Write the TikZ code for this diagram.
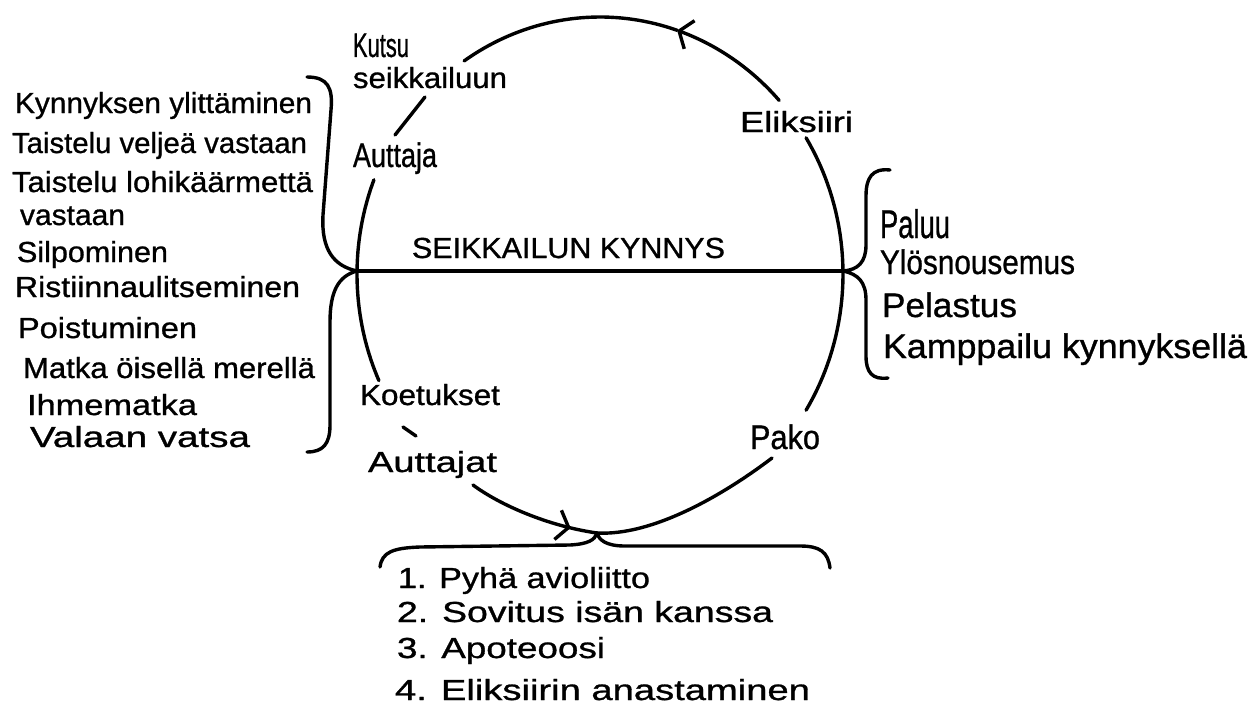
\documentclass[tikz,border=0pt]{standalone}
\usepackage{fontspec}
\setmainfont{Liberation Sans}
\newfontfamily\hand{Liberation Sans}[FakeBold=0.9]
\usepackage{graphicx}
\usetikzlibrary{arrows.meta,decorations.markings}
\newcommand\fitw[2]{\resizebox{#1pt}{\height}{#2}}
\tikzset{
  ink/.style={line width=3.4pt, line cap=round, line join=round, draw=black},
  lbl/.style={anchor=base west, inner sep=0pt, outer sep=0pt, font=\hand\fontsize{29}{33}\selectfont},
  biglbl/.style={lbl, font=\hand\fontsize{34}{38}\selectfont},
  rlbl/.style={lbl, font=\hand\fontsize{34}{38}\selectfont},
  barb/.tip={Straight Barb[length=11pt,width=30pt]}
}
\begin{document}
\begin{tikzpicture}[x=1pt,y=-1pt]
\useasboundingbox (0,0) rectangle (1258,709);
% ---------- circle labels ----------
\node[biglbl] (kutsu) at (353,57) {\fitw{56}{Kutsu}};
\node[lbl] (seik) at (353,88) {\fitw{154}{seikkailuun}};
\node[biglbl] (auttaja) at (353,167) {\fitw{84}{Auttaja}};
\node[lbl] (eliks) at (740,132) {\fitw{113}{Eliksiiri}};
\node[lbl] (koet) at (360,405) {\fitw{140}{Koetukset}};
\node[lbl] (auttajat) at (368,472) {\fitw{129}{Auttajat}};
\node[biglbl] (pako) at (750,449) {\fitw{70}{Pako}};
\node[lbl] (kynnys) at (412,258) {\fitw{313}{SEIKKAILUN KYNNYS}};
% ---------- left list ----------
\node[lbl] (l1) at (15,113) {\fitw{297}{Kynnyksen ylittäminen}};
\node[lbl] (l2) at (12,153) {\fitw{295}{Taistelu veljeä vastaan}};
\node[lbl] (l3) at (12,192) {\fitw{301}{Taistelu lohikäärmettä}};
\node[lbl] (l4) at (20,225) {\fitw{105}{vastaan}};
\node[lbl] (l5) at (17,262) {\fitw{151}{Silpominen}};
\node[lbl] (l6) at (15,297) {\fitw{285}{Ristiinnaulitseminen}};
\node[lbl] (l7) at (18,338) {\fitw{179}{Poistuminen}};
\node[lbl] (l8) at (23,378) {\fitw{292}{Matka öisellä merellä}};
\node[lbl] (l9) at (27,415) {\fitw{170}{Ihmematka}};
\node[lbl] (l10) at (30,447) {\fitw{220}{Valaan vatsa}};
% ---------- right list ----------
\node[rlbl, font=\hand\fontsize{40}{44}\selectfont] (r1) at (880,238) {\fitw{70}{Paluu}};
\node[rlbl] (r2) at (880,274) {\fitw{195}{Ylösnousemus}};
\node[rlbl] (r3) at (882,317) {\fitw{135}{Pelastus}};
\node[rlbl] (r4) at (883,358) {\fitw{364}{Kamppailu kynnyksellä}};
% ---------- bottom list ----------
\node[lbl] (b1) at (398,588) {\fitw{252}{1. Pyhä avioliitto}};
\node[lbl] (b2) at (397,622) {\fitw{376}{2. Sovitus isän kanssa}};
\node[lbl] (b3) at (397,658) {\fitw{208}{3. Apoteoosi}};
\node[lbl] (b4) at (395,700) {\fitw{415}{4. Eliksiirin anastaminen}};
% ---------- circle (ellipse centre 600,274; radii 243,257) ----------
\coordinate (top) at (600,17);
\coordinate (bot) at (597,533);
\coordinate (L) at (357,271);
\coordinate (R) at (843,271);
\coordinate (ajs) at (473,485);
\coordinate (pks) at (772,458);
% top arc: Eliksiiri -> Kutsu seikkailuun, arrow pointing left
\draw[ink,{barb}-] plot[domain=-71.5:-42.5,samples=25,variable=\t] ({600+243*cos(\t)},{274+257*sin(\t)});
\draw[ink] plot[domain=-124:-71.5,samples=40,variable=\t] ({600+243*cos(\t)},{274+257*sin(\t)});
% left side: Auttaja -> Koetukset
\draw[ink] plot[domain=155.5:201.5,samples=40,variable=\t] ({600+243*cos(\t)},{274+257*sin(\t)});
% right side: Pako -> Eliksiiri
\draw[ink] plot[domain=-32:32,samples=40,variable=\t] ({600+243*cos(\t)},{274+257*sin(\t)});
% bottom: Auttajat -> meeting point (arrow), Pako -> meeting point
\draw[ink,postaction={decorate},decoration={markings,mark=at position 0.8 with {\arrow{barb}}}]
  (ajs) .. controls (500,505) and (548,526) .. (bot);
\draw[ink] (pks) .. controls (722,496) and (652,536) .. (bot);
% short ticks
\draw[ink] (425,97) -- (395,135);
\draw[ink] (403,427) -- (416,436);
% threshold line
\draw[ink] (L) -- (R);
% left brace }
\draw[ink] (307,77) .. controls (328,77) and (333,88) .. (331,110)
  -- (323,215) .. controls (321,250) and (334,266) .. (L)
  .. controls (338,276) and (330,292) .. (330,322)
  -- (330,425) .. controls (330,444) and (323,452) .. (307,452);
% right brace {
\draw[ink] (890,170) .. controls (872,168) and (866,178) .. (866,196)
  -- (866,245) .. controls (866,262) and (858,270) .. (R)
  .. controls (858,274) and (866,282) .. (866,300)
  -- (866,356) .. controls (866,372) and (872,380) .. (888,378);
% bottom brace
\draw[ink] (380,567) .. controls (382,552) and (393,548) .. (420,547)
  -- (570,545) .. controls (588,544) and (595,540) .. (bot)
  .. controls (599,540) and (606,546) .. (625,546)
  -- (800,546) .. controls (820,546) and (828,552) .. (830,568);
\end{tikzpicture}
\end{document}
